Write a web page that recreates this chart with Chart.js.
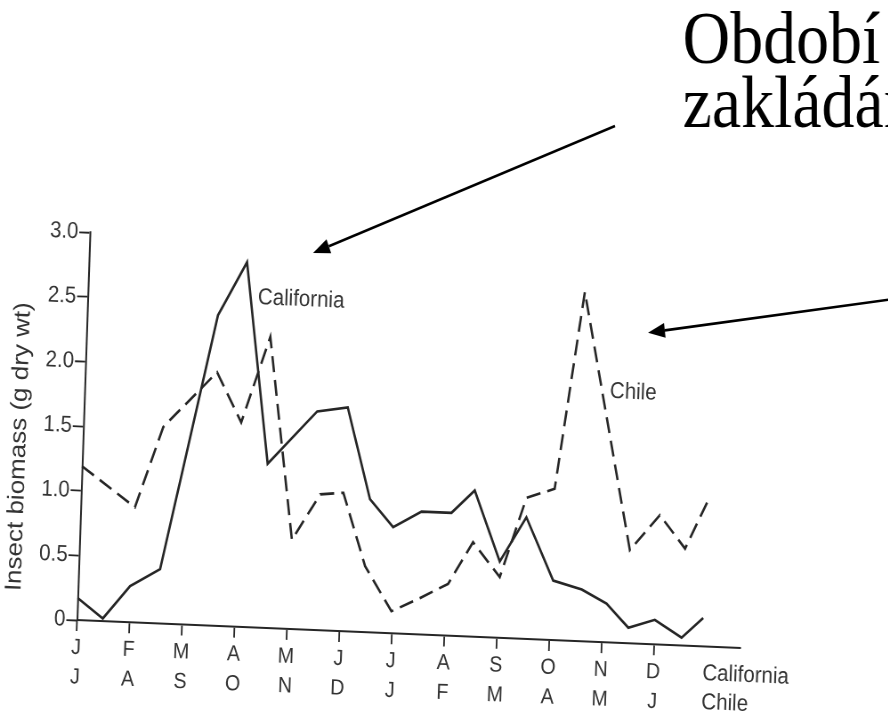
<!DOCTYPE html>
<html><head><meta charset="utf-8">
<script src="https://cdn.jsdelivr.net/npm/chart.js@4/dist/chart.umd.min.js"></script>
<style>
html,body{margin:0;padding:0;background:#fff;overflow:hidden;}
#wrap{width:888px;height:714px;overflow:hidden;position:relative;background:#fff;}
#c{position:absolute;left:0;top:0;width:998px;height:714px;transform:scaleX(0.89);transform-origin:0 0;}
</style></head><body>
<div id="wrap"><canvas id="c" width="998" height="714"></canvas></div>
<script>
// ---- data ----
const californiaMonths = ['J','F','M','A','M','J','J','A','S','O','N','D'];
const chileMonths      = ['J','A','S','O','N','D','J','F','M','A','M','J'];
const seriesNames = ['California','Chile'];
const yTicks = [0, 0.5, 1.0, 1.5, 2.0, 2.5, 3.0];
const yAxisTitle = 'Insect biomass (g dry wt)';
const slideTitle = ['Období', 'zakládání'];

// month position (0 = first J) and biomass (g dry wt)
const californiaX = [0,0.49,0.99,1.55,2.49,3.01,3.53,4.44,5.02,5.50,5.96,6.49,7.06,7.49,8.01,8.49,9.04,9.59,10.07,10.50,11.00,11.52,11.92];
const californiaY = [0.17,0.02,0.28,0.42,2.40,2.82,1.27,1.69,1.73,1.03,0.82,0.95,0.95,1.13,0.59,0.94,0.46,0.40,0.30,0.12,0.19,0.06,0.22];
const chileX = [0,1.03,1.52,2.51,3.00,3.50,4.04,4.55,4.99,5.45,5.98,6.51,7.04,7.49,8.02,8.48,9.01,9.46,10.48,11.03,11.53,11.94];
const chileY = [1.19,0.89,1.52,1.96,1.58,2.25,0.69,1.05,1.07,0.51,0.17,0.28,0.40,0.73,0.47,1.09,1.17,2.70,0.72,1.00,0.75,1.13];

const THETA = 2.15 * Math.PI / 180;
const INK = '#262626';
const TXT = '#333333';
const SANS = '"Liberation Sans", Arial, Helvetica, sans-serif';

function arrow(ctx, x1, y1, x2, y2) {
  const ang = Math.atan2(y2 - y1, x2 - x1);
  const L = 19, W = 7.5;
  const bx = x2 - L * Math.cos(ang), by = y2 - L * Math.sin(ang);
  ctx.beginPath(); ctx.moveTo(x1, y1); ctx.lineTo(bx, by);
  ctx.lineWidth = 2.6; ctx.strokeStyle = '#000'; ctx.stroke();
  ctx.beginPath();
  ctx.moveTo(x2, y2);
  ctx.lineTo(bx + W * Math.sin(ang), by - W * Math.cos(ang));
  ctx.lineTo(bx - W * Math.sin(ang), by + W * Math.cos(ang));
  ctx.closePath(); ctx.fillStyle = '#000'; ctx.fill();
}

const scanPlugin = {
  id: 'scan',
  beforeDraw(chart) {
    const { ctx, chartArea: a } = chart;
    ctx.save();
    ctx.translate(a.left, a.bottom);
    ctx.rotate(THETA);
    ctx.translate(-a.left, -a.bottom);
  },
  afterDatasetsDraw(chart) {
    const { ctx, chartArea: a } = chart;
    const xs = chart.scales.x, ys = chart.scales.y;
    ctx.save();
    ctx.fillStyle = TXT;
    ctx.textAlign = 'left';
    ctx.textBaseline = 'alphabetic';
    ctx.font = '23px ' + SANS;
    ctx.fillText(seriesNames[0], xs.getPixelForValue(3.24), ys.getPixelForValue(2.50));
    ctx.fillText(seriesNames[1], xs.getPixelForValue(10.0), ys.getPixelForValue(1.89));
    const rx = xs.getPixelForValue(11.94);
    ctx.fillText(seriesNames[0], rx, a.bottom + 33.6);
    ctx.fillText(seriesNames[1], rx, a.bottom + 62.6);
    ctx.translate(a.left - 71.7, ys.getPixelForValue(1.32));
    ctx.rotate(-Math.PI / 2);
    ctx.textAlign = 'center';
    ctx.textBaseline = 'middle';
    ctx.font = '26px ' + SANS;
    ctx.fillText(yAxisTitle, 0, 0);
    ctx.restore();
  },
  afterDraw(chart) {
    const ctx = chart.ctx;
    ctx.restore();
    ctx.save();
    ctx.fillStyle = '#000';
    ctx.textAlign = 'left';
    ctx.textBaseline = 'alphabetic';
    ctx.font = '74px "Liberation Serif", "Times New Roman", serif';
    ctx.fillText(slideTitle[0], 767, 63);
    ctx.fillText(slideTitle[1], 767, 127);
    arrow(ctx, 691, 126, 351.7, 253);
    arrow(ctx, 1000, 299.5, 728.1, 332.7);
    ctx.restore();
  }
};

new Chart(document.getElementById('c'), {
  type: 'line',
  data: {
    datasets: [
      {
        label: seriesNames[0],
        data: californiaX.map((x, i) => ({ x: x, y: californiaY[i] })),
        borderColor: INK, borderWidth: 2.6, pointRadius: 0, tension: 0, fill: false
      },
      {
        label: seriesNames[1],
        data: chileX.map((x, i) => ({ x: x, y: chileY[i] })),
        borderColor: INK, borderWidth: 2.6, borderDash: [16, 8], pointRadius: 0, tension: 0, fill: false
      }
    ]
  },
  options: {
    responsive: false,
    devicePixelRatio: 1,
    animation: false,
    events: [],
    clip: false,
    layout: { padding: { top: 232, right: 166, left: 0, bottom: 0 } },
    plugins: { legend: { display: false }, tooltip: { enabled: false } },
    scales: {
      x: {
        type: 'linear', min: 0, max: 12.64,
        afterBuildTicks: s => { s.ticks = californiaMonths.map((_, i) => ({ value: i })); },
        afterFit: s => { s.height = 94; },
        ticks: {
          autoSkip: false, maxRotation: 0, padding: 2,
          color: TXT, font: { family: SANS, size: 22, lineHeight: 1.35 },
          callback: v => [californiaMonths[Math.round(v)], chileMonths[Math.round(v)]]
        },
        grid: { drawOnChartArea: false, tickLength: 11, tickColor: INK, tickWidth: 1.8 },
        border: { color: INK, width: 2 }
      },
      y: {
        min: 0, max: 3,
        afterBuildTicks: s => { s.ticks = yTicks.map(v => ({ value: v })); },
        afterFit: s => { s.width = 86.5; },
        ticks: {
          padding: 1, color: TXT, font: { family: SANS, size: 23 },
          callback: v => (v === 0 ? '0' : v.toFixed(1))
        },
        grid: { drawOnChartArea: false, tickLength: 12, tickColor: INK, tickWidth: 1.8 },
        border: { color: INK, width: 2 }
      }
    }
  },
  plugins: [scanPlugin]
});
</script>
</body></html>
